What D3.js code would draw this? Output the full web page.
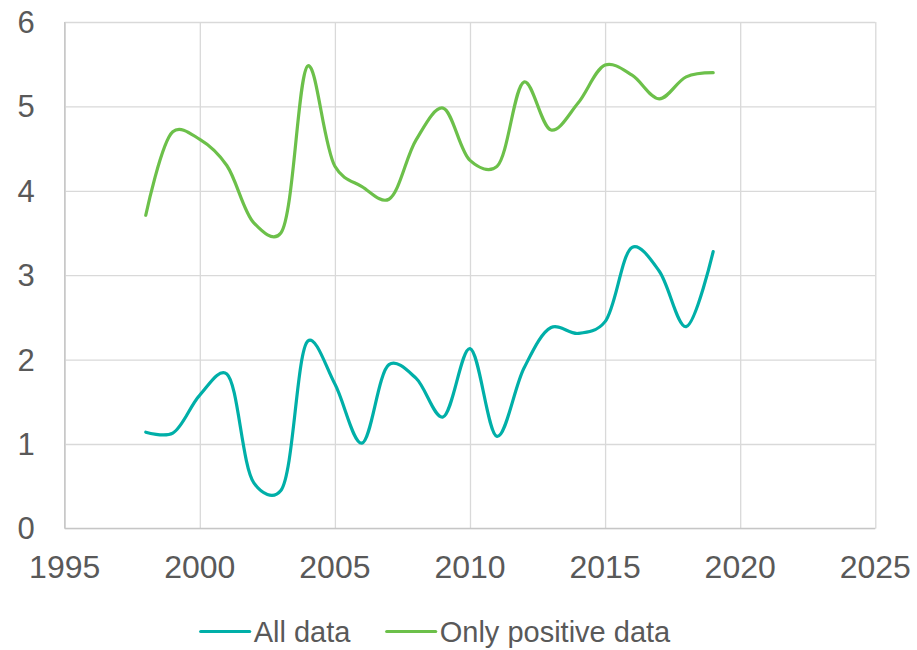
<!DOCTYPE html>
<html>
<head>
<meta charset="utf-8">
<script src="https://cdn.jsdelivr.net/npm/d3@7"></script>
<style>
  body { margin: 0; background: #fff; }
  svg text { font-family: "Liberation Sans", Arial, sans-serif; fill: #595959; }
</style>
</head>
<body>
<div class="vis-line"></div>
<script>
const years = [1998, 1999, 2000, 2001, 2002, 2003, 2004, 2005, 2006, 2007, 2008,
               2009, 2010, 2011, 2012, 2013, 2014, 2015, 2016, 2017, 2018, 2019];
const allData = [1.14, 1.13, 1.58, 1.83, 0.54, 0.45, 2.22, 1.71, 1.01, 1.94, 1.78,
                 1.32, 2.13, 1.09, 1.90, 2.38, 2.31, 2.45, 3.33, 3.05, 2.39, 3.28];
const positiveData = [3.71, 4.70, 4.61, 4.30, 3.62, 3.50, 5.48, 4.29, 4.05, 3.90, 4.60,
                      4.98, 4.36, 4.29, 5.29, 4.72, 5.04, 5.49, 5.37, 5.09, 5.35, 5.40];
const xTicks = [1995, 2000, 2005, 2010, 2015, 2020, 2025];
const yTicks = [0, 1, 2, 3, 4, 5, 6];
const seriesNames = ['All data', 'Only positive data'];

const draw = () => {
    const W = 917, H = 650;
    const margin = { top: 22, right: 41.7, bottom: 121.6, left: 64.7 };
    const width = W - margin.left - margin.right;
    const height = H - margin.top - margin.bottom;

    const color = d3.scaleOrdinal().domain(seriesNames).range(['#00AFA8', '#6CC04A']);

    const svg = d3.select('.vis-line')
        .append('svg')
        .attr('width', W)
        .attr('height', H);

    const g = svg.append('g')
        .attr('transform', 'translate(' + margin.left + ',' + margin.top + ')');

    const x = d3.scaleLinear().domain([1995, 2025]).range([0, width]);
    const y = d3.scaleLinear().domain([0, 6]).range([height, 0]);

    // grid
    g.append('g')
        .attr('transform', 'translate(0,' + height + ')')
        .call(d3.axisBottom(x).tickValues(xTicks).tickSize(-height).tickFormat(''))
        .call(a => a.select('.domain').remove())
        .selectAll('line').attr('stroke', '#d9d9d9').attr('stroke-width', 1.3);
    g.append('g')
        .call(d3.axisLeft(y).tickValues(yTicks).tickSize(-width).tickFormat(''))
        .call(a => a.select('.domain').remove())
        .selectAll('line').attr('stroke', '#d9d9d9').attr('stroke-width', 1.3);

    // axis lines
    g.append('line').attr('x1', 0).attr('x2', 0).attr('y1', 0).attr('y2', height)
        .attr('stroke', '#c6c6c6').attr('stroke-width', 1.3);
    g.append('line').attr('x1', 0).attr('x2', width).attr('y1', height).attr('y2', height)
        .attr('stroke', '#c6c6c6').attr('stroke-width', 1.3);

    // tick labels
    g.selectAll('.xlab')
        .data(xTicks)
        .enter().append('text')
        .attr('class', 'xlab')
        .attr('x', d => x(d))
        .attr('y', height + 49.5)
        .attr('text-anchor', 'middle')
        .style('font-size', '32px')
        .text(d => d);
    g.selectAll('.ylab')
        .data(yTicks)
        .enter().append('text')
        .attr('class', 'ylab')
        .attr('x', -30)
        .attr('y', d => y(d) + 11)
        .attr('text-anchor', 'end')
        .style('font-size', '31px')
        .text(d => d);

    // lines
    const line = d3.line()
        .x(d => x(d.year))
        .y(d => y(d.value))
        .curve(d3.curveCatmullRom.alpha(0.3));

    const series = [
        { name: seriesNames[0], values: years.map((yr, i) => ({ year: yr, value: allData[i] })) },
        { name: seriesNames[1], values: years.map((yr, i) => ({ year: yr, value: positiveData[i] })) }
    ];

    g.selectAll('.series')
        .data(series)
        .enter().append('path')
        .attr('class', 'series')
        .attr('d', d => line(d.values))
        .attr('fill', 'none')
        .attr('stroke', d => color(d.name))
        .attr('stroke-width', 3.2)
        .attr('stroke-linecap', 'round')
        .attr('stroke-linejoin', 'round');

    // legend
    const legendX = [200.7, 386.7];
    const legendG = svg.selectAll('.legend')
        .data(series)
        .enter().append('g')
        .attr('class', 'legend')
        .attr('transform', (d, i) => 'translate(' + legendX[i] + ',631.5)');

    legendG.append('line')
        .attr('x1', 0).attr('x2', 49)
        .attr('y1', 0).attr('y2', 0)
        .attr('stroke', d => color(d.name))
        .attr('stroke-width', 3.2)
        .attr('stroke-linecap', 'round');

    legendG.append('text')
        .attr('x', 53)
        .attr('y', 10.5)
        .style('font-size', '29px')
        .text(d => d.name);
};

draw();
</script>
</body>
</html>
